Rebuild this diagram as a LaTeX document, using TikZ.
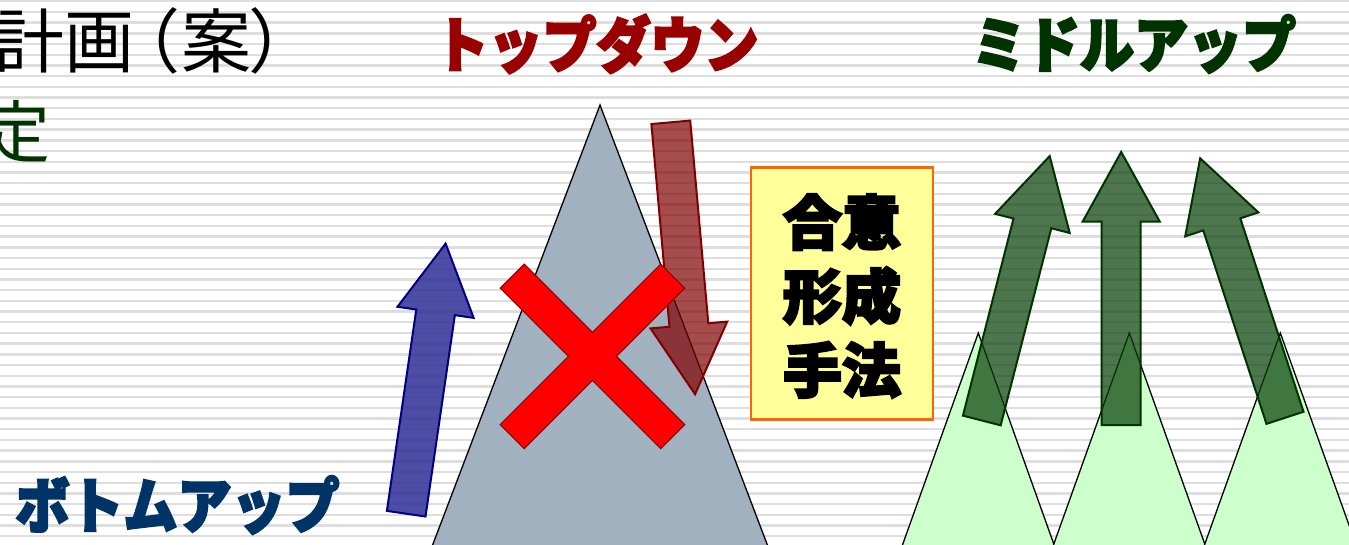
\documentclass[tikz,border=0pt]{standalone}
\usepackage{fontspec}
\newfontfamily\jp{Noto Sans CJK JP}
\newfontfamily\jpheavy{Noto Sans CJK JP}[BoldFeatures={FakeBold=4}]
\definecolor{stripe}{HTML}{DEDEDE}
\definecolor{mtgray}{HTML}{A2B1C0}
\definecolor{mtgreen}{HTML}{CCFFCC}
\definecolor{tdred}{HTML}{990000}
\definecolor{mugreen}{HTML}{003300}
\definecolor{bunavy}{HTML}{003366}
\definecolor{boxfill}{HTML}{FFFF99}
\definecolor{boxline}{HTML}{FF6600}
\definecolor{maroon}{HTML}{800000}
\definecolor{navyline}{HTML}{000080}
\definecolor{bluefill}{HTML}{2E2E96}
\definecolor{greenfill}{HTML}{0A420A}
\tikzset{
  mountain/.style={draw=black, line width=1.3pt, line join=miter},
  bluearrow/.style={fill=bluefill, fill opacity=0.85, draw=navyline, line width=2pt, line join=miter},
  redarrow/.style={fill=maroon, fill opacity=0.7, draw=maroon, line width=2pt, line join=miter},
  greenarrow/.style={fill=greenfill, fill opacity=0.72, draw=mugreen, line width=2pt, line join=miter},
  crossmark/.style={fill=red, draw=maroon, line width=1pt, line join=miter},
  title/.style={font=\jpheavy\bfseries\fontsize{60}{60}\selectfont, inner sep=0pt},
  boxtext/.style={font=\jpheavy\bfseries\fontsize{59}{74}\selectfont, align=center, inner sep=0pt},
  bigtext/.style={font=\jp\fontsize{70}{70}\selectfont, inner sep=0pt, anchor=base west}
}
\newcommand\blockarr[3]{%
  \path[#1, shift={#2}, rotate=#3] (0,-19.5) -- (203.5,-19.5) -- (203.5,-38.5) -- (273,0)
    -- (203.5,38.5) -- (203.5,19.5) -- (0,19.5) -- cycle;}
\begin{document}
\begin{tikzpicture}[x=1pt,y=-1pt]
\useasboundingbox (0,0) rectangle (1349,544);
\clip (0,0) rectangle (1349,544);
\fill[white] (0,0) rectangle (1349,544);
\foreach \k in {0,...,51} {
  \draw[stripe, line width=2.4pt] (0,{1.2+10.7*\k}) -- (1349,{1.2+10.7*\k});
}
% texts top-left
\node[bigtext] (plan) at (-6,67) {計画\kern-24pt（\kern1pt案\kern-3pt）};
\node[bigtext, font=\jp\fontsize{68}{68}\selectfont, text=mugreen] (tei) at (-18,157) {定};
% titles
\node[title, text=tdred, xscale=0.9] (td) at (596.5,44) {トップダウン};
\node[title, text=mugreen, xscale=0.9] (mu) at (1134,44) {ミドルアップ};
\node[title, text=bunavy, xscale=0.9] (bu) at (177.5,505) {ボトムアップ};
% gray mountain
\filldraw[mountain, fill=mtgray] (600,105) -- (426.9,560) -- (773.1,560) -- cycle;
% red arrow
\blockarr{redarrow}{(670.8,122.3)}{-84.9}
% red cross
\begin{scope}[shift={(592.4,356.4)}, rotate=45]
\path[crossmark] (17,17) -- (113.5,17) -- (113.5,-17) -- (17,-17) -- (17,-113.5) -- (-17,-113.5)
  -- (-17,-17) -- (-113.5,-17) -- (-113.5,17) -- (-17,17) -- (-17,113.5) -- (17,113.5) -- cycle;
\end{scope}
% blue arrow
\blockarr{bluearrow}{(406.2,513.7)}{81.7}
% box
\node[draw=boxline, fill=boxfill, line width=2.5pt, minimum width=182pt, minimum height=252pt, inner sep=0pt] (box) at (842,293.3) {};
\node[boxtext] (boxt) at (842,296) {合意\\形成\\手法};
% green mountains
\filldraw[mountain, fill=mtgreen] (978.3,333) -- (902.1,546) -- (1054.5,546) -- cycle;
\filldraw[mountain, fill=mtgreen] (1129.3,333) -- (1053.1,546) -- (1205.5,546) -- cycle;
\filldraw[mountain, fill=mtgreen] (1280.3,333) -- (1204.1,546) -- (1356.5,546) -- cycle;
% green arrows
\blockarr{greenarrow}{(981.8,420.5)}{75.6}
\blockarr{greenarrow}{(1121.2,425)}{90}
\blockarr{greenarrow}{(1285,417.8)}{108.1}
\end{tikzpicture}
\end{document}
